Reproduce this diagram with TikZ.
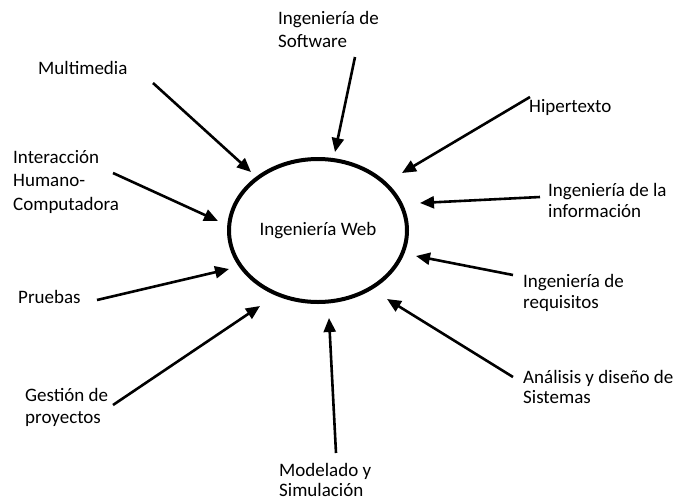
\documentclass[tikz,border=0pt]{standalone}
\usepackage{fontspec}
\setmainfont{Carlito}
\usetikzlibrary{shapes.geometric,arrows.meta}

\tikzset{
  etiqueta/.style={anchor=base west, align=left, inner sep=0pt,
    font=\fontsize{19}{#1}\selectfont},
  etiqueta/.default=23,
  flecha/.style={line width=2.6pt, -{Triangle[length=14pt,width=12pt]}}
}

\begin{document}
\begin{tikzpicture}[x=1pt, y=-1pt]
    \useasboundingbox (0,0) rectangle (673,499);

    % centro
    \node[draw, ellipse, line width=4pt, minimum width=178pt, minimum height=143pt,
          inner sep=0pt, font=\fontsize{19}{23}\selectfont] (web) at (318,230.5) {Ingeniería Web};

    % temas alrededor (base = ultima linea)
    \node[etiqueta] (soft) at (278,47) {Ingeniería de\\Software};
    \node[etiqueta] (multi) at (38,74) {Multimedia};
    \node[etiqueta=23.5] (ihc) at (13,210) {Interacción\\Humano-\\Computadora};
    \node[etiqueta] (pruebas) at (18,303) {Pruebas};
    \node[etiqueta=22] (gestion) at (25,423) {Gestión de\\proyectos};
    \node[etiqueta=20] (modelado) at (279,496) {Modelado y\\Simulación};
    \node[etiqueta] (hiper) at (529,112) {Hipertexto};
    \node[etiqueta=21] (info) at (548,217) {Ingeniería de la\\información};
    \node[etiqueta=21] (req) at (523,308) {Ingeniería de\\requisitos};
    \node[etiqueta=20] (analisis) at (523,403) {Análisis y diseño de\\Sistemas};

    % puntos de las flechas
    \coordinate (soft-a) at (355,57);   \coordinate (soft-b) at (335,152);
    \coordinate (multi-a) at (153,83);  \coordinate (multi-b) at (251,172);
    \coordinate (ihc-a) at (113,173);   \coordinate (ihc-b) at (218,221);
    \coordinate (pruebas-a) at (97,300); \coordinate (pruebas-b) at (229,269);
    \coordinate (gestion-a) at (113,405); \coordinate (gestion-b) at (260,306);
    \coordinate (modelado-a) at (336,453); \coordinate (modelado-b) at (329,318);
    \coordinate (hiper-a) at (530,97);  \coordinate (hiper-b) at (402,173);
    \coordinate (info-a) at (540,197);  \coordinate (info-b) at (420,203);
    \coordinate (req-a) at (513,275);   \coordinate (req-b) at (416,256);
    \coordinate (analisis-a) at (513,377); \coordinate (analisis-b) at (387,299);

    % flechas hacia el centro
    \foreach \t in {soft,multi,ihc,pruebas,gestion,modelado,hiper,info,req,analisis}
        \draw[flecha] (\t-a) -- (\t-b);
\end{tikzpicture}
\end{document}
